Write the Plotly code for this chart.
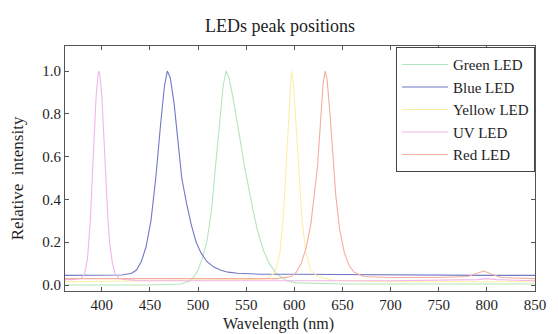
import plotly.graph_objects as go

# ---- data ----
series_names = ["Green LED", "Blue LED", "Yellow LED", "UV LED", "Red LED"]

green_x = [361, 450, 482, 492, 499, 504, 509, 514, 518, 522, 526, 529, 532, 536, 540, 544, 548, 552, 557, 562, 568, 574, 582, 592, 602, 650, 700, 750, 800, 850]
green_y = [0.0, 0.0, 0.005, 0.02, 0.06, 0.12, 0.2, 0.35, 0.55, 0.75, 0.93, 1.0, 0.97, 0.88, 0.78, 0.67, 0.56, 0.46, 0.35, 0.25, 0.16, 0.1, 0.05, 0.02, 0.01, 0.005, 0.005, 0.005, 0.005, 0.005]

blue_x = [361, 380, 400, 421, 431, 436, 441, 446, 451, 456, 461, 465, 468, 471, 475, 479, 483, 488, 493, 498, 503, 509, 516, 523, 531, 541, 551, 566, 600, 650, 700, 750, 800, 850]
blue_y = [0.045, 0.045, 0.045, 0.047, 0.055, 0.07, 0.11, 0.18, 0.3, 0.5, 0.75, 0.93, 1.0, 0.97, 0.85, 0.68, 0.5, 0.38, 0.28, 0.2, 0.15, 0.11, 0.085, 0.07, 0.06, 0.055, 0.052, 0.05, 0.05, 0.048, 0.046, 0.045, 0.045, 0.045]

yellow_x = [361, 450, 500, 552, 572, 580, 585, 589, 592, 595, 597, 599, 602, 605, 608, 612, 617, 624, 642, 700, 800, 850]
yellow_y = [0.015, 0.02, 0.025, 0.025, 0.03, 0.06, 0.15, 0.35, 0.6, 0.88, 1.0, 0.95, 0.75, 0.5, 0.3, 0.15, 0.07, 0.04, 0.02, 0.015, 0.015, 0.015]

uv_x = [361, 370, 378, 382, 385, 388, 390, 392, 394, 396, 397, 398, 400, 402, 404, 406, 408, 411, 414, 418, 425, 440, 500, 600, 700, 790, 800, 810, 850]
uv_y = [0.025, 0.025, 0.03, 0.05, 0.12, 0.3, 0.5, 0.7, 0.88, 0.98, 1.0, 0.98, 0.88, 0.7, 0.5, 0.33, 0.2, 0.1, 0.05, 0.03, 0.025, 0.02, 0.02, 0.02, 0.02, 0.025, 0.03, 0.025, 0.02]

red_x = [361, 500, 582, 597, 602, 607, 612, 617, 621, 624, 627, 630, 632, 634, 637, 640, 643, 647, 652, 657, 662, 672, 700, 750, 780, 790, 797, 805, 815, 850]
red_y = [0.03, 0.03, 0.03, 0.04, 0.06, 0.1, 0.17, 0.28, 0.42, 0.55, 0.75, 0.95, 1.0, 0.96, 0.8, 0.6, 0.42, 0.26, 0.15, 0.09, 0.06, 0.04, 0.035, 0.035, 0.04, 0.055, 0.065, 0.05, 0.035, 0.03]

x_ticks = [400, 450, 500, 550, 600, 650, 700, 750, 800, 850]
y_ticks = [0.0, 0.2, 0.4, 0.6, 0.8, 1.0]

colors = ["#b3e6bd", "#7179c4", "#fbefa8", "#f0b6ea", "#f3aea0"]
xs = [green_x, blue_x, yellow_x, uv_x, red_x]
ys = [green_y, blue_y, yellow_y, uv_y, red_y]

FONT = "Liberation Serif"
TXT = "#1e1e1e"

fig = go.Figure()
for name, x, y, c in zip(series_names, xs, ys, colors):
    fig.add_trace(go.Scatter(x=x, y=y, mode="lines", name=name, legendgroup=name,
                             line=dict(color=c, width=1.1)))

# page body has an 8px margin, so the figure is drawn 8px smaller
W, H = 550, 326
ml, mr, mt, mb = 57, 13, 38, 43

axis_common = dict(showline=True, mirror="ticks", linecolor="#555555", linewidth=1,
                   ticks="inside", ticklen=4, tickcolor="#555555", showgrid=False,
                   zeroline=False, ticklabeloverflow="allow",
                   tickfont=dict(family=FONT, size=15, color=TXT))

fig.update_layout(
    width=W, height=H,
    margin=dict(l=ml, r=mr, t=mt, b=mb),
    paper_bgcolor="white", plot_bgcolor="white",
    font=dict(family=FONT, size=15, color=TXT),
    xaxis=dict(range=[361.7, 850], tickvals=x_ticks, ticklabelstandoff=0, **axis_common),
    yaxis=dict(range=[-0.028, 1.117], tickvals=y_ticks, tickformat=".1f", ticklabelstandoff=0, **axis_common),
    legend=dict(x=1.0, y=0.995, xanchor="right", yanchor="top",
                bordercolor="#444444", borderwidth=1, bgcolor="white",
                font=dict(family=FONT, size=15, color=TXT),
                tracegroupgap=0, itemwidth=46),
    showlegend=True,
    annotations=[
        dict(text="LEDs peak positions", xref="paper", yref="paper",
             x=(277 - ml) / (W - ml - mr), y=1, yshift=20, yanchor="middle",
             showarrow=False, font=dict(family=FONT, size=18, color=TXT)),
        dict(text="Wavelength (nm)", xref="paper", yref="paper",
             x=(275 - ml) / (W - ml - mr), y=0, yshift=-33, yanchor="middle",
             showarrow=False, font=dict(family=FONT, size=16, color=TXT)),
        dict(text="Relative  intensity", xref="paper", yref="paper", textangle=-90,
             x=0, xshift=-48, xanchor="center", y=0.46, yanchor="middle",
             showarrow=False, font=dict(family=FONT, size=17, color=TXT)),
    ],
)

fig.write_html("out.html")
